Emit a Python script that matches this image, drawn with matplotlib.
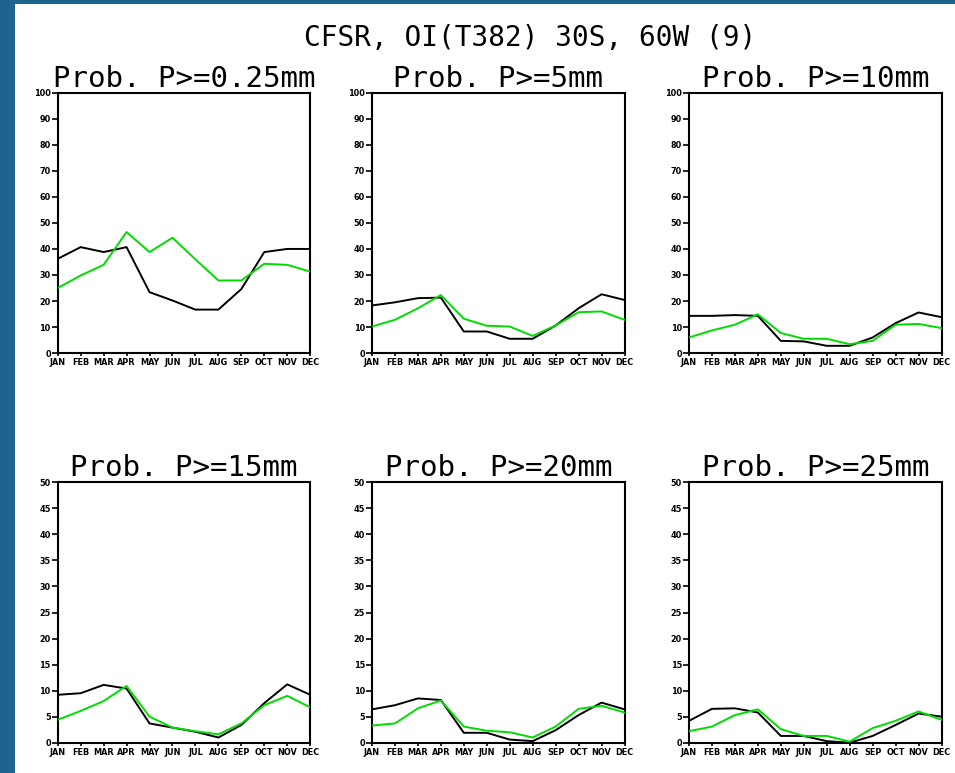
import matplotlib
matplotlib.use("Agg")
import matplotlib.pyplot as plt
from matplotlib import font_manager
from matplotlib.patches import Rectangle

months = ["JAN", "FEB", "MAR", "APR", "MAY", "JUN",
          "JUL", "AUG", "SEP", "OCT", "NOV", "DEC"]

titles = ["Prob. P>=0.25mm", "Prob. P>=5mm", "Prob. P>=10mm",
          "Prob. P>=15mm", "Prob. P>=20mm", "Prob. P>=25mm"]

# CFSR (black) and OI (green) exceedance probabilities, %
cfsr_025 = [36.2, 40.7, 38.8, 40.7, 23.4, 20.2, 16.7, 16.7, 24.6, 38.8, 40.0, 40.0]
oi_025 = [25.0, 29.8, 33.9, 46.5, 38.8, 44.3, 36.0, 27.9, 27.9, 34.3, 33.9, 31.3]

cfsr_5 = [18.3, 19.5, 21.1, 21.3, 8.3, 8.3, 5.5, 5.5, 10.6, 17.2, 22.6, 20.4]
oi_5 = [10.2, 12.8, 17.2, 22.3, 13.2, 10.5, 10.2, 6.6, 10.6, 15.7, 16.0, 12.8]

cfsr_10 = [14.3, 14.3, 14.6, 14.3, 4.7, 4.5, 2.8, 2.8, 6.0, 11.5, 15.6, 13.8]
oi_10 = [6.0, 8.7, 10.9, 14.9, 7.7, 5.5, 5.5, 3.4, 4.7, 10.9, 11.2, 9.6]

cfsr_15 = [9.2, 9.5, 11.1, 10.4, 3.7, 2.9, 2.1, 1.0, 3.4, 7.6, 11.2, 9.2]
oi_15 = [4.4, 6.1, 8.0, 10.9, 5.0, 2.9, 2.2, 1.6, 3.7, 7.2, 9.0, 6.8]

cfsr_20 = [6.4, 7.2, 8.5, 8.2, 1.9, 1.9, 0.6, 0.3, 2.4, 5.3, 7.7, 6.4]
oi_20 = [3.3, 3.7, 6.6, 8.1, 3.1, 2.3, 2.0, 1.0, 3.1, 6.5, 7.1, 5.8]

cfsr_25 = [4.2, 6.5, 6.6, 5.8, 1.3, 1.3, 0.3, 0.0, 1.3, 3.4, 5.6, 5.0]
oi_25 = [2.2, 3.1, 5.3, 6.4, 2.6, 1.3, 1.3, 0.2, 2.8, 4.2, 6.0, 4.4]

cfsr_series = [cfsr_025, cfsr_5, cfsr_10, cfsr_15, cfsr_20, cfsr_25]
oi_series = [oi_025, oi_5, oi_10, oi_15, oi_20, oi_25]
y_max = [100, 100, 100, 50, 50, 50]
y_step = [10, 10, 10, 5, 5, 5]

# pick a narrow face for the tick labels if one is available
names = {f.name for f in font_manager.fontManager.ttflist}
if "Liberation Sans Narrow" in names:
    tick_font = dict(family="Liberation Sans Narrow", weight="bold")
else:
    tick_font = dict(family="DejaVu Sans", weight="bold", stretch="condensed")

W, H = 955, 773
fig = plt.figure(figsize=(W / 100, H / 100), dpi=100, facecolor="#1e6491")
fig.patches.append(Rectangle((15 / W, 0), 1 - 15 / W, 1 - 4 / H,
                             transform=fig.transFigure, facecolor="white",
                             edgecolor="none", zorder=-10))

fig.text(530 / W, 1 - 38 / H, "CFSR, OI(T382) 30S, 60W (9)",
         ha="center", va="center", fontsize=20, family="DejaVu Sans Mono")

lefts = [57.7, 372.0, 689.0]
tops = [92.7, 482.3]
aw, ah = 252.5, 260.4

x = list(range(len(months)))
for i in range(6):
    r, c = divmod(i, 3)
    ax = fig.add_axes([lefts[c] / W, 1 - (tops[r] + ah) / H, aw / W, ah / H])
    ax.set_zorder(1)
    ax.plot(x, cfsr_series[i], color="black", lw=1.4, zorder=3)
    ax.plot(x, oi_series[i], color="#00dc00", lw=1.4, zorder=3)
    ax.set_xlim(0, 11)
    ax.set_ylim(0, y_max[i])
    ax.set_xticks(x)
    ax.set_xticklabels(months, fontsize=6.5, **tick_font)
    ax.set_yticks(range(0, y_max[i] + 1, y_step[i]))
    ax.set_yticklabels([str(v) for v in range(0, y_max[i] + 1, y_step[i])],
                       fontsize=6.5, **tick_font)
    ax.tick_params(axis="y", direction="out", length=4, width=1.2, pad=1)
    ax.tick_params(axis="x", direction="out", length=2, width=1.2, pad=1.5)
    for s in ax.spines.values():
        s.set_linewidth(1.5)
    ax.set_title(titles[i], fontsize=21, family="DejaVu Sans Mono", pad=4)

fig.savefig("out.png", dpi=100, facecolor=fig.get_facecolor())
